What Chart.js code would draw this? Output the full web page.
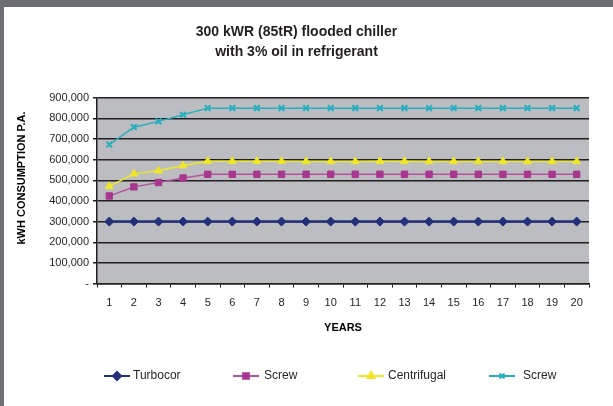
<!DOCTYPE html>
<html>
<head>
<meta charset="utf-8">
<script src="https://cdn.jsdelivr.net/npm/chart.js@4"></script>
<style>
  html, body { margin: 0; padding: 0; background: #6d6e71; width: 613px; height: 406px; overflow: hidden; }
  #wrap { position: absolute; left: 4px; top: 7px; width: 609px; height: 399px; background: #fff; }
</style>
</head>
<body>
<div id="wrap"><canvas id="chart" width="609" height="399"></canvas></div>
<script>
// data
const years = ['1','2','3','4','5','6','7','8','9','10','11','12','13','14','15','16','17','18','19','20'];
const turbocor    = [300000,300000,300000,300000,300000,300000,300000,300000,300000,300000,300000,300000,300000,300000,300000,300000,300000,300000,300000,300000];
const screw       = [424000,468000,489000,511000,529000,529000,529000,529000,529000,529000,529000,529000,529000,529000,529000,529000,529000,529000,529000,529000];
const centrifugal = [471000,531000,546000,571000,592000,592000,592000,592000,591000,591000,591000,592000,592000,591000,591000,591000,591000,591000,591000,591000];
const screw2      = [673000,757000,785000,817000,849000,849000,849000,849000,849000,849000,849000,849000,849000,849000,849000,849000,849000,849000,849000,849000];
const yTicks = [0,100000,200000,300000,400000,500000,600000,700000,800000,900000];

const FONT = '"Liberation Sans", Arial, sans-serif';

const plotBg = {
    id: 'plotBg',
    beforeDraw(chart) {
        const { ctx, chartArea: a } = chart;
        ctx.save();
        ctx.fillStyle = '#bcbdc0';
        ctx.fillRect(a.left, a.top, a.right - a.left, a.bottom - a.top);
        ctx.restore();
    }
};

// y title and legend drawn by hand to match the original placement
const extras = {
    id: 'extras',
    afterDraw(chart) {
        const { ctx } = chart;
        ctx.save();
        ctx.fillStyle = '#000';
        ctx.font = 'bold 11px ' + FONT;
        ctx.textAlign = 'center';
        ctx.textBaseline = 'middle';
        ctx.translate(18, 171);
        ctx.rotate(-Math.PI / 2);
        ctx.fillText('kWH CONSUMPTION P.A.', 0, 0);
        ctx.restore();

        const starts = [100, 229, 354, 485];
        const textX = [129, 260, 384, 519];
        const y = 369;
        chart.data.datasets.forEach((ds, i) => {
            const x0 = starts[i];
            ctx.save();
            ctx.strokeStyle = ds.legendLine || ds.borderColor;
            ctx.lineWidth = 2;
            ctx.beginPath();
            ctx.moveTo(x0, y);
            ctx.lineTo(x0 + 26, y);
            ctx.stroke();
            ctx.fillStyle = ds.pointBackgroundColor;
            ctx.strokeStyle = ds.pointBorderColor;
            Chart.helpers.drawPoint(ctx, {
                pointStyle: ds.pointStyle,
                radius: ds.pointRadius - 0.5,
                borderWidth: ds.pointStyle === 'crossRot' ? 2 : 1
            }, x0 + 13, y);
            ctx.fillStyle = '#231f20';
            ctx.font = '12px ' + FONT;
            ctx.textAlign = 'left';
            ctx.textBaseline = 'middle';
            ctx.fillText(ds.label, textX[i], y);
            ctx.restore();
        });
    }
};

function series(label, values, color, lineColor, style, radius, width) {
    return {
        label: label,
        data: values,
        borderColor: lineColor,
        legendLine: lineColor,
        backgroundColor: color,
        pointBackgroundColor: color,
        pointBorderColor: color,
        pointStyle: style,
        pointRadius: radius,
        pointBorderWidth: style === 'crossRot' ? 2 : 1,
        borderWidth: width,
        tension: 0,
    };
}

new Chart(document.getElementById('chart').getContext('2d'), {
    type: 'line',
    data: {
        labels: years,
        datasets: [
            series('Turbocor', turbocor, '#24307a', '#24307a', 'rectRot', 4.5, 2.5),
            series('Screw', screw, '#a8378f', '#b553a3', 'rect', 4.5, 1.5),
            series('Centrifugal', centrifugal, '#f0e628', '#f0e628', 'triangle', 4.5, 1.5),
            series('Screw', screw2, '#27aec0', '#27aec0', 'crossRot', 4, 1.5),
        ]
    },
    options: {
        responsive: false,
        animation: false,
        layout: { padding: { left: 0, right: 24, top: 0, bottom: 71 } },
        plugins: {
            legend: { display: false },
            tooltip: { enabled: false },
            title: {
                display: true,
                text: ['300 kWR (85tR) flooded chiller', 'with 3% oil in refrigerant'],
                color: '#231f20',
                font: { family: FONT, size: 14, weight: 'bold', lineHeight: 1.45 },
                padding: { top: 15, bottom: 35 }
            }
        },
        scales: {
            x: {
                offset: true,
                grid: {
                    offset: true,
                    drawOnChartArea: false,
                    drawTicks: true,
                    tickLength: 4,
                    color: '#231f20',
                },
                border: { color: '#231f20', width: 1.5 },
                ticks: { color: '#231f20', font: { family: FONT, size: 11 }, padding: 9, maxRotation: 0, autoSkip: false },
                title: { display: true, text: 'YEARS', color: '#000', font: { family: FONT, size: 11, weight: 'bold' }, padding: { top: 3, bottom: 0 } }
            },
            y: {
                min: 0,
                max: 900000,
                afterFit(scale) { scale.width = 93; },
                afterBuildTicks(scale) { scale.ticks = yTicks.map(v => ({ value: v })); },
                grid: { color: '#231f20', lineWidth: 1.5, tickLength: 4 },
                border: { color: '#231f20', width: 1.5 },
                ticks: {
                    color: '#231f20',
                    font: { family: FONT, size: 11 },
                    padding: 4,
                    callback: v => v === 0 ? '-' : v.toLocaleString('en-US')
                }
            }
        }
    },
    plugins: [plotBg, extras]
});
</script>
</body>
</html>
